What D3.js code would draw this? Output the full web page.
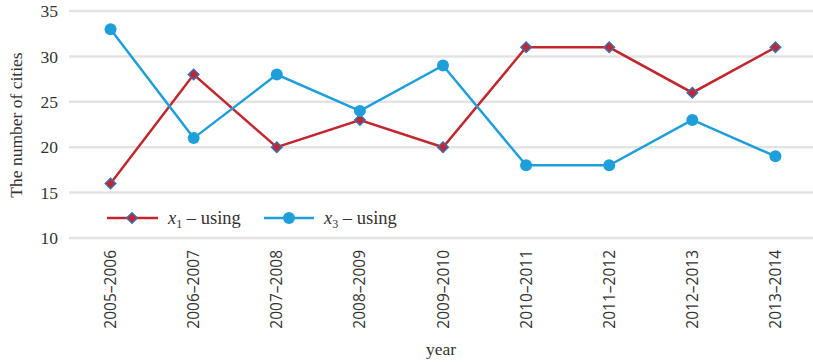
<!DOCTYPE html>
<html>
<head>
<meta charset="utf-8">
<script src="https://cdn.jsdelivr.net/npm/d3@7"></script>
<style>
  body { margin: 0; background: #fff; }
  svg { display: block; }
</style>
</head>
<body>
<svg id="chart" width="813" height="364"></svg>
<script>
const periods = ['2005–2006', '2006–2007', '2007–2008', '2008–2009', '2009–2010',
  '2010–2011', '2011–2012', '2012–2013', '2013–2014']
const x1Using = [16, 28, 20, 23, 20, 31, 31, 26, 31]
const x3Using = [33, 21, 28, 24, 29, 18, 18, 23, 19]
const yTicks = [10, 15, 20, 25, 30, 35]

const red = '#c1272d'
const blue = '#1f9fd9'
const serif = '"Liberation Serif", "DejaVu Serif", serif'

const svg = d3.select('#chart')

const x = d3.scaleBand().domain(periods).range([69, 817])
const y = d3.scaleLinear().domain([10, 35]).range([238, 11])
const cx = (d) => x(d) + x.bandwidth() / 2

// gridlines
svg.append('g')
  .selectAll('line')
  .data(yTicks)
  .join('line')
  .attr('x1', 69)
  .attr('x2', 817)
  .attr('y1', (d) => y(d))
  .attr('y2', (d) => y(d))
  .attr('stroke', '#e3e3e3')
  .attr('stroke-width', 2.5)

// y axis labels
svg.append('g')
  .selectAll('text')
  .data(yTicks)
  .join('text')
  .attr('x', 58)
  .attr('y', (d) => y(d))
  .attr('dy', '0.35em')
  .attr('text-anchor', 'end')
  .attr('font-family', serif)
  .attr('font-size', 17.5)
  .attr('fill', '#333')
  .text((d) => d)

// x axis labels, rotated
svg.append('g')
  .selectAll('text')
  .data(periods)
  .join('text')
  .attr('transform', (d) => `translate(${cx(d) + 5.5},250) rotate(-90)`)
  .attr('text-anchor', 'end')
  .attr('font-family', '"Open Sans", "Noto Sans", sans-serif')
  .attr('font-size', 15.5)
  .attr('fill', '#333')
  .text((d) => d)

// axis titles
svg.append('text')
  .attr('transform', 'translate(22,125) rotate(-90)')
  .attr('text-anchor', 'middle')
  .attr('font-family', serif)
  .attr('font-size', 17.5)
  .attr('fill', '#333')
  .text('The number of cities')

svg.append('text')
  .attr('x', 441)
  .attr('y', 355)
  .attr('text-anchor', 'middle')
  .attr('font-family', serif)
  .attr('font-size', 17.5)
  .attr('fill', '#333')
  .text('year')

const line = d3.line()
  .x((d, i) => cx(periods[i]))
  .y((d) => y(d))

const diamond = d3.symbol().type(d3.symbolDiamond2).size(70)

// x1 series
svg.append('path')
  .datum(x1Using)
  .attr('d', line)
  .attr('fill', 'none')
  .attr('stroke', red)
  .attr('stroke-width', 2.5)

svg.append('g')
  .selectAll('path')
  .data(x1Using)
  .join('path')
  .attr('d', diamond)
  .attr('transform', (d, i) => `translate(${cx(periods[i])},${y(d)})`)
  .attr('fill', red)
  .attr('stroke', '#3d6cb3')
  .attr('stroke-width', 1.5)

// x3 series
svg.append('path')
  .datum(x3Using)
  .attr('d', line)
  .attr('fill', 'none')
  .attr('stroke', blue)
  .attr('stroke-width', 2.5)

svg.append('g')
  .selectAll('circle')
  .data(x3Using)
  .join('circle')
  .attr('cx', (d, i) => cx(periods[i]))
  .attr('cy', (d) => y(d))
  .attr('r', 6)
  .attr('fill', blue)

// legend
const legend = svg.append('g').attr('transform', 'translate(0,218)')

legend.append('line')
  .attr('x1', 107).attr('x2', 158)
  .attr('stroke', red).attr('stroke-width', 2.5)
legend.append('path')
  .attr('d', diamond)
  .attr('transform', 'translate(132,0)')
  .attr('fill', red)
  .attr('stroke', '#3d6cb3')
  .attr('stroke-width', 1.5)

const t1 = legend.append('text')
  .attr('x', 168).attr('y', 0).attr('dy', '0.35em')
  .attr('font-family', serif).attr('font-size', 18.5).attr('fill', '#333')
t1.append('tspan').attr('font-style', 'italic').text('x')
t1.append('tspan').attr('font-size', 12).attr('dy', 4).text('1')
t1.append('tspan').attr('dy', -4).text(' – using')

legend.append('line')
  .attr('x1', 264).attr('x2', 314)
  .attr('stroke', blue).attr('stroke-width', 2.5)
legend.append('circle')
  .attr('cx', 289).attr('r', 6).attr('fill', blue)

const t3 = legend.append('text')
  .attr('x', 324).attr('y', 0).attr('dy', '0.35em')
  .attr('font-family', serif).attr('font-size', 18.5).attr('fill', '#333')
t3.append('tspan').attr('font-style', 'italic').text('x')
t3.append('tspan').attr('font-size', 12).attr('dy', 4).text('3')
t3.append('tspan').attr('dy', -4).text(' – using')
</script>
</body>
</html>
